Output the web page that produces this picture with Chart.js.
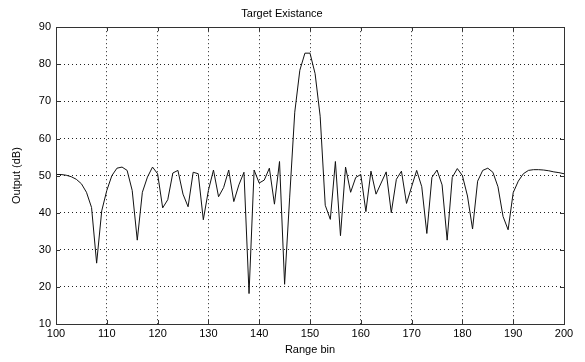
<!DOCTYPE html>
<html>
<head>
<meta charset="utf-8">
<script src="https://cdn.jsdelivr.net/npm/chart.js@4/dist/chart.umd.min.js"></script>
<style>
  html, body { margin: 0; padding: 0; background: #fff; }
  #wrap { width: 585px; height: 362px; position: relative; }
</style>
</head>
<body>
<div id="wrap"><canvas id="chart"></canvas></div>
<script>
// range bins (x) and output level in dB (y)
const rangeBins = [
    100, 101, 102, 103, 104, 105, 106, 107, 108, 109,
    110, 111, 112, 113, 114, 115, 116, 117, 118, 119,
    120, 121, 122, 123, 124, 125, 126, 127, 128, 129,
    130, 131, 132, 133, 134, 135, 136, 137, 138, 139,
    140, 141, 142, 143, 144, 145, 146, 147, 148, 149,
    150, 151, 152, 153, 154, 155, 156, 157, 158, 159,
    160, 161, 162, 163, 164, 165, 166, 167, 168, 169,
    170, 171, 172, 173, 174, 175, 176, 177, 178, 179,
    180, 181, 182, 183, 184, 185, 186, 187, 188, 189,
    190, 191, 192, 193, 194, 195, 196, 197, 198, 199,
    200
];
const outputDb = [
    50.3, 50.3, 50.1, 49.7, 49.0, 47.8, 45.5, 41.4, 26.4, 40.5,
    46.0, 50.0, 52.0, 52.3, 51.4, 46.0, 32.6, 45.5, 49.6, 52.3,
    50.5, 41.3, 43.5, 50.7, 51.4, 45.0, 41.6, 50.9, 50.5, 38.1,
    46.0, 51.5, 44.3, 46.8, 51.5, 43.0, 47.5, 50.9, 18.2, 51.5,
    48.0, 48.8, 52.0, 42.3, 53.8, 20.7, 44.2, 67.1, 78.4, 83.0,
    83.0, 77.5, 66.0, 42.0, 38.2, 53.8, 33.8, 52.3, 45.5, 49.5,
    50.3, 40.3, 51.2, 45.0, 48.0, 51.0, 40.0, 49.0, 51.2, 42.5,
    47.0, 51.4, 47.0, 34.4, 49.5, 51.5, 47.5, 32.6, 49.5, 51.9,
    50.0, 44.5, 35.6, 48.5, 51.4, 52.0, 50.9, 47.0, 39.0, 35.4,
    45.4, 48.5, 50.5, 51.4, 51.6, 51.6, 51.5, 51.3, 51.0, 50.8,
    50.5
];
const xTicks = [100, 110, 120, 130, 140, 150, 160, 170, 180, 190, 200];
const yTicks = [10, 20, 30, 40, 50, 60, 70, 80, 90];

const font = { family: 'Arial, "Liberation Sans", sans-serif', size: 11, weight: 'normal' };

// box around the axes plus the small inward tick marks, matlab style
const axesBox = {
    id: 'axesBox',
    afterDraw(chart) {
        const { ctx, chartArea: a, scales } = chart;
        ctx.save();
        ctx.strokeStyle = '#333';
        ctx.lineWidth = 1;
        ctx.beginPath();
        xTicks.forEach(v => {
            const px = Math.round(scales.x.getPixelForValue(v)) + 0.5;
            ctx.moveTo(px, a.bottom); ctx.lineTo(px, a.bottom - 4);
            ctx.moveTo(px, a.top); ctx.lineTo(px, a.top + 4);
        });
        yTicks.forEach(v => {
            const py = Math.round(scales.y.getPixelForValue(v)) + 0.5;
            ctx.moveTo(a.left, py); ctx.lineTo(a.left + 4, py);
            ctx.moveTo(a.right, py); ctx.lineTo(a.right - 4, py);
        });
        ctx.stroke();
        ctx.strokeRect(Math.round(a.left) + 0.5, Math.round(a.top) + 0.5,
            Math.round(a.right - a.left), Math.round(a.bottom - a.top));
        ctx.restore();
    }
};

new Chart(document.getElementById('chart'), {
    type: 'line',
    data: {
        datasets: [{
            data: rangeBins.map((b, i) => ({ x: b, y: outputDb[i] })),
            borderColor: '#111',
            borderWidth: 1,
            pointRadius: 0,
            tension: 0,
            fill: false
        }]
    },
    options: {
        responsive: true,
        maintainAspectRatio: false,
        animation: false,
        layout: { padding: { left: 0, right: 21, top: 0, bottom: 0 } },
        plugins: {
            legend: { display: false },
            tooltip: { enabled: false },
            title: {
                display: true,
                text: 'Target Existance',
                color: '#000',
                font: font,
                padding: { top: 7, bottom: 7 }
            }
        },
        scales: {
            x: {
                type: 'linear',
                min: 100,
                max: 200,
                afterBuildTicks: scale => { scale.ticks = xTicks.map(v => ({ value: v })); },
                afterFit: scale => { scale.height = 38; },
                ticks: { color: '#000', font: font, padding: 3, maxRotation: 0 },
                grid: { color: '#222', drawTicks: false, lineWidth: 1 },
                border: { display: false, dash: [1, 3] },
                title: {
                    display: true,
                    text: 'Range bin',
                    color: '#000',
                    font: font,
                    padding: { top: 0, bottom: 5 }
                }
            },
            y: {
                min: 10,
                max: 90,
                afterBuildTicks: scale => { scale.ticks = yTicks.map(v => ({ value: v })); },
                afterFit: scale => { scale.width = 56; },
                ticks: { color: '#000', font: font, padding: 5 },
                grid: { color: '#222', drawTicks: false, lineWidth: 1 },
                border: { display: false, dash: [1, 3] },
                title: {
                    display: true,
                    text: 'Output (dB)',
                    color: '#000',
                    font: font,
                    padding: { top: 10, bottom: 0 }
                }
            }
        }
    },
    plugins: [axesBox]
});
</script>
</body>
</html>
